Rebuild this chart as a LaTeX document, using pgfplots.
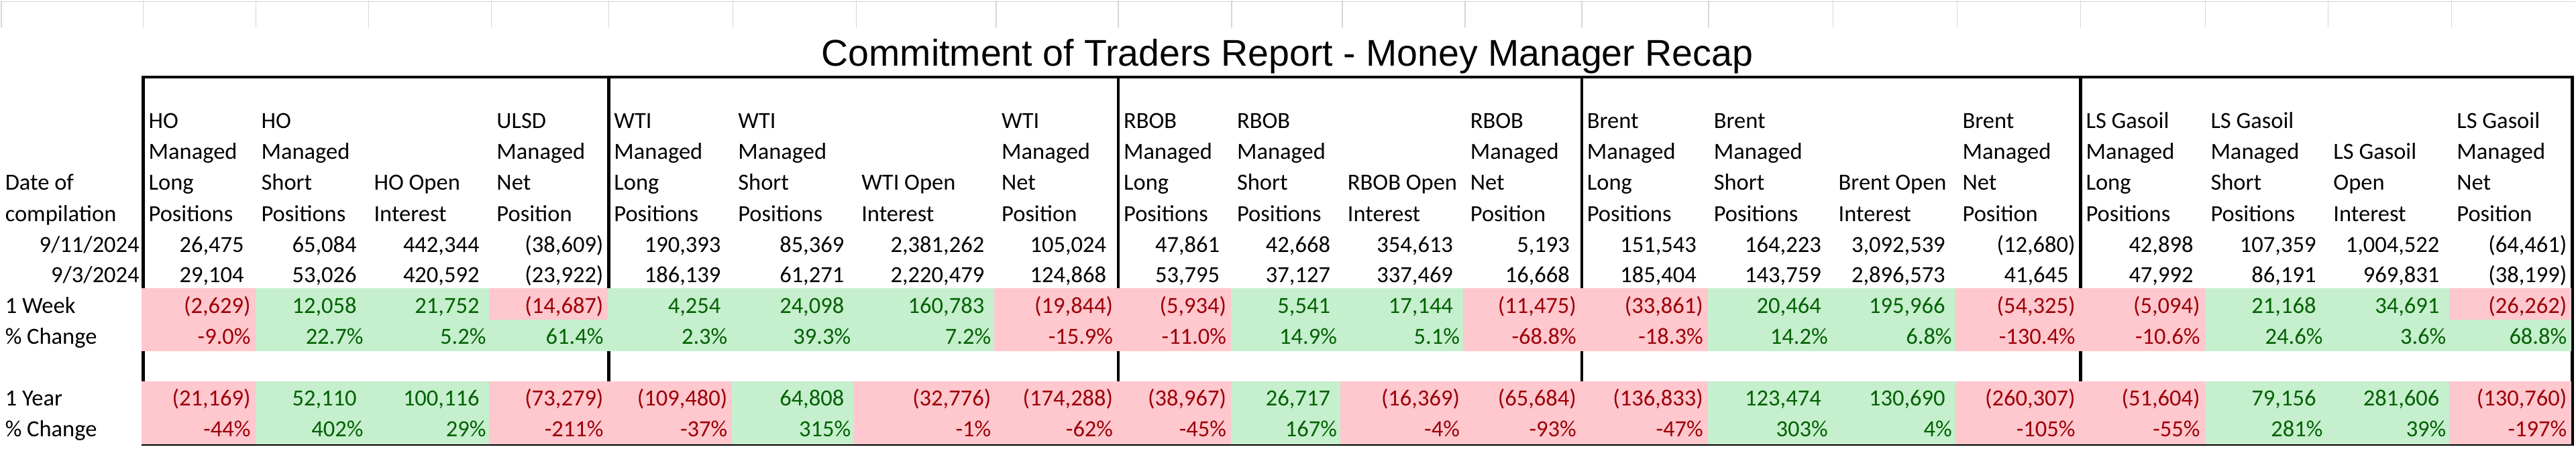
\documentclass[border=0pt]{standalone}
\usepackage{fontspec}
\usepackage{pgfplots}
\usepackage{pgfplotstable}
\pgfplotsset{compat=1.18}
\setmainfont{Carlito}
\newfontfamily\titlefont{Liberation Sans}
\newcommand\cellfont{\fontsize{6.9}{8}\selectfont}

\definecolor{txg}{HTML}{006100}
\definecolor{txr}{HTML}{9C0006}
\definecolor{bgg}{HTML}{C6EFCE}
\definecolor{bgr}{HTML}{FFC7CE}
\definecolor{gridgray}{HTML}{D6D6D6}

% positions are in pixels of the 3840x669 sheet, y counted from the top
% header text and row labels: x = left edge of cell, y = baseline
\pgfplotstableread[col sep=semicolon,row sep=\\]{
x;y;lab\\
-1;283;Date of\\
-1;330;compilation\\
-1;466.5;1 Week\\
-1;512.5;\% Change\\
-1;605;1 Year\\
-1;650.5;\% Change\\
213;191;HO\\ 213;237;Managed\\ 213;283;Long\\ 213;330;Positions\\
381;191;HO\\ 381;237;Managed\\ 381;283;Short\\ 381;330;Positions\\
549;283;HO Open\\ 549;330;Interest\\
732;191;ULSD\\ 732;237;Managed\\ 732;283;Net\\ 732;330;Position\\
907;191;WTI\\ 907;237;Managed\\ 907;283;Long\\ 907;330;Positions\\
1092;191;WTI\\ 1092;237;Managed\\ 1092;283;Short\\ 1092;330;Positions\\
1276;283;WTI Open\\ 1276;330;Interest\\
1485;191;WTI\\ 1485;237;Managed\\ 1485;283;Net\\ 1485;330;Position\\
1667;191;RBOB\\ 1667;237;Managed\\ 1667;283;Long\\ 1667;330;Positions\\
1836;191;RBOB\\ 1836;237;Managed\\ 1836;283;Short\\ 1836;330;Positions\\
2001;283;RBOB Open\\ 2001;330;Interest\\
2184;191;RBOB\\ 2184;237;Managed\\ 2184;283;Net\\ 2184;330;Position\\
2358;191;Brent\\ 2358;237;Managed\\ 2358;283;Long\\ 2358;330;Positions\\
2547;191;Brent\\ 2547;237;Managed\\ 2547;283;Short\\ 2547;330;Positions\\
2733;283;Brent Open\\ 2733;330;Interest\\
2918;191;Brent\\ 2918;237;Managed\\ 2918;283;Net\\ 2918;330;Position\\
3102;191;LS Gasoil\\ 3102;237;Managed\\ 3102;283;Long\\ 3102;330;Positions\\
3288;191;LS Gasoil\\ 3288;237;Managed\\ 3288;283;Short\\ 3288;330;Positions\\
3471;237;LS Gasoil\\ 3471;283;Open\\ 3471;330;Interest\\
3655;191;LS Gasoil\\ 3655;237;Managed\\ 3655;283;Net\\ 3655;330;Position\\
}\heads

% data rows: x = right edge of cell, w = cell width,
% s = 0 plain / 1 green / 2 red, p = right padding
\pgfplotstableread[col sep=semicolon,row sep=\\]{
x;w;s;p;lab\\
213;213;0;5;9/11/2024\\
381;168;0;17;26,475\\
549;168;0;17;65,084\\
732;183;0;17;442,344\\
907;175;0;7;(38,609)\\
1092;185;0;17;190,393\\
1276;184;0;17;85,369\\
1485;209;0;17;2,381,262\\
1667;182;0;17;105,024\\
1836;169;0;17;47,861\\
2001;165;0;17;42,668\\
2184;183;0;17;354,613\\
2358;174;0;17;5,193\\
2547;189;0;17;151,543\\
2733;186;0;17;164,223\\
2918;185;0;17;3,092,539\\
3102;184;0;7;(12,680)\\
3288;186;0;17;42,898\\
3471;183;0;17;107,359\\
3655;184;0;17;1,004,522\\
3835;180;0;7;(64,461)\\
}\rowA

\pgfplotstableread[col sep=semicolon,row sep=\\]{
x;w;s;p;lab\\
213;213;0;5;9/3/2024\\
381;168;0;17;29,104\\
549;168;0;17;53,026\\
732;183;0;17;420,592\\
907;175;0;7;(23,922)\\
1092;185;0;17;186,139\\
1276;184;0;17;61,271\\
1485;209;0;17;2,220,479\\
1667;182;0;17;124,868\\
1836;169;0;17;53,795\\
2001;165;0;17;37,127\\
2184;183;0;17;337,469\\
2358;174;0;17;16,668\\
2547;189;0;17;185,404\\
2733;186;0;17;143,759\\
2918;185;0;17;2,896,573\\
3102;184;0;17;41,645\\
3288;186;0;17;47,992\\
3471;183;0;17;86,191\\
3655;184;0;17;969,831\\
3835;180;0;7;(38,199)\\
}\rowB

\pgfplotstableread[col sep=semicolon,row sep=\\]{
x;w;s;p;lab\\
381;168;2;7;(2,629)\\
549;168;1;17;12,058\\
732;183;1;17;21,752\\
907;175;2;7;(14,687)\\
1092;185;1;17;4,254\\
1276;184;1;17;24,098\\
1485;209;1;17;160,783\\
1667;182;2;7;(19,844)\\
1836;169;2;7;(5,934)\\
2001;165;1;17;5,541\\
2184;183;1;17;17,144\\
2358;174;2;7;(11,475)\\
2547;189;2;7;(33,861)\\
2733;186;1;17;20,464\\
2918;185;1;17;195,966\\
3102;184;2;7;(54,325)\\
3288;186;2;7;(5,094)\\
3471;183;1;17;21,168\\
3655;184;1;17;34,691\\
3835;180;2;7;(26,262)\\
}\weekChg

\pgfplotstableread[col sep=semicolon,row sep=\\]{
x;w;s;p;lab\\
381;168;2;7;-9.0\\
549;168;1;7;22.7\\
732;183;1;7;5.2\\
907;175;1;7;61.4\\
1092;185;1;7;2.3\\
1276;184;1;7;39.3\\
1485;209;1;7;7.2\\
1667;182;2;7;-15.9\\
1836;169;2;7;-11.0\\
2001;165;1;7;14.9\\
2184;183;1;7;5.1\\
2358;174;2;7;-68.8\\
2547;189;2;7;-18.3\\
2733;186;1;7;14.2\\
2918;185;1;7;6.8\\
3102;184;2;7;-130.4\\
3288;186;2;7;-10.6\\
3471;183;1;7;24.6\\
3655;184;1;7;3.6\\
3835;180;1;7;68.8\\
}\weekPct

\pgfplotstableread[col sep=semicolon,row sep=\\]{
x;w;s;p;lab\\
381;168;2;7;(21,169)\\
549;168;1;17;52,110\\
732;183;1;17;100,116\\
907;175;2;7;(73,279)\\
1092;185;2;7;(109,480)\\
1276;184;1;17;64,808\\
1485;209;2;7;(32,776)\\
1667;182;2;7;(174,288)\\
1836;169;2;7;(38,967)\\
2001;165;1;17;26,717\\
2184;183;2;7;(16,369)\\
2358;174;2;7;(65,684)\\
2547;189;2;7;(136,833)\\
2733;186;1;17;123,474\\
2918;185;1;17;130,690\\
3102;184;2;7;(260,307)\\
3288;186;2;7;(51,604)\\
3471;183;1;17;79,156\\
3655;184;1;17;281,606\\
3835;180;2;7;(130,760)\\
}\yearChg

\pgfplotstableread[col sep=semicolon,row sep=\\]{
x;w;s;p;lab\\
381;168;2;7;-44\\
549;168;1;7;402\\
732;183;1;7;29\\
907;175;2;7;-211\\
1092;185;2;7;-37\\
1276;184;1;7;315\\
1485;209;2;7;-1\\
1667;182;2;7;-62\\
1836;169;2;7;-45\\
2001;165;1;7;167\\
2184;183;2;7;-4\\
2358;174;2;7;-93\\
2547;189;2;7;-47\\
2733;186;1;7;303\\
2918;185;1;7;4\\
3102;184;2;7;-105\\
3288;186;2;7;-55\\
3471;183;1;7;281\\
3655;184;1;7;39\\
3835;180;2;7;-197\\
}\yearPct

\pgfplotsset{
  nomarks/.style={only marks, mark=*, mark size=0pt, mark options={draw=none, fill=none}},
  green/.style={restrict expr to domain={\thisrow{s}}{1:1}},
  red/.style={restrict expr to domain={\thisrow{s}}{2:2}},
  cellfill/.style={nomarks,
    nodes near coords={\relax},
    nodes near coords align={anchor=east},
    visualization depends on={\thisrow{w} \as \cw},
    every node near coord/.append style={inner sep=0pt, fill=#1, draw=none,
      minimum width=\cw*0.2pt+0.4pt, minimum height=9.5pt}},
  celltext/.style={nomarks, point meta=explicit symbolic,
    nodes near coords={\pgfplotspointmeta},
    nodes near coords align={anchor=base east},
    every node near coord/.append style={inner sep=0pt, font=\cellfont, text=#1}},
  headtext/.style={nomarks, point meta=explicit symbolic,
    nodes near coords={\pgfplotspointmeta},
    nodes near coords align={anchor=base west},
    every node near coord/.append style={inner sep=0pt, font=\cellfont, text=black}},
}

\begin{document}
\begin{tikzpicture}
\begin{axis}[
  scale only axis, width=768pt, height=133.8pt,
  xmin=0, xmax=3840, ymin=0, ymax=669, y dir=reverse,
  hide axis, clip=false,
]
\path (axis cs:0,0) rectangle (axis cs:3840,669);

% sheet gridlines in the empty top row
\draw[gridgray, line width=0.3pt] (axis cs:0,1.5) -- (axis cs:3840,1.5);
\pgfplotsinvokeforeach{1,213,381,549,732,907,1092,1276,1485,1667,1836,2001,2184,2358,2547,2733,2918,3102,3288,3471,3655}{
  \draw[gridgray, line width=0.3pt] (axis cs:#1,0) -- (axis cs:#1,40);
}

% coloured cells
\addplot[cellfill=bgg, green] table[x=x, y expr=453.5] {\weekChg};
\addplot[cellfill=bgr, red] table[x=x, y expr=453.5] {\weekChg};
\addplot[cellfill=bgg, green] table[x=x, y expr=500] {\weekPct};
\addplot[cellfill=bgr, red] table[x=x, y expr=500] {\weekPct};
\addplot[cellfill=bgg, green] table[x=x, y expr=592] {\yearChg};
\addplot[cellfill=bgr, red] table[x=x, y expr=592] {\yearChg};
\addplot[cellfill=bgg, green] table[x=x, y expr=638.7] {\yearPct};
\addplot[cellfill=bgr, red] table[x=x, y expr=638.7] {\yearPct};

% text
\addplot[headtext] table[x expr=\thisrow{x}+7, y=y, meta=lab] {\heads};
\addplot[celltext=black] table[x expr=\thisrow{x}-\thisrow{p}, y expr=375.5, meta=lab] {\rowA};
\addplot[celltext=black] table[x expr=\thisrow{x}-\thisrow{p}, y expr=420.5, meta=lab] {\rowB};
\addplot[celltext=txg, green] table[x expr=\thisrow{x}-\thisrow{p}, y expr=466.5, meta=lab] {\weekChg};
\addplot[celltext=txr, red] table[x expr=\thisrow{x}-\thisrow{p}, y expr=466.5, meta=lab] {\weekChg};
\addplot[celltext=txg, green, nodes near coords={\pgfplotspointmeta\%}] table[x expr=\thisrow{x}-\thisrow{p}, y expr=512.5, meta=lab] {\weekPct};
\addplot[celltext=txr, red, nodes near coords={\pgfplotspointmeta\%}] table[x expr=\thisrow{x}-\thisrow{p}, y expr=512.5, meta=lab] {\weekPct};
\addplot[celltext=txg, green] table[x expr=\thisrow{x}-\thisrow{p}, y expr=605, meta=lab] {\yearChg};
\addplot[celltext=txr, red] table[x expr=\thisrow{x}-\thisrow{p}, y expr=605, meta=lab] {\yearChg};
\addplot[celltext=txg, green, nodes near coords={\pgfplotspointmeta\%}] table[x expr=\thisrow{x}-\thisrow{p}, y expr=650.5, meta=lab] {\yearPct};
\addplot[celltext=txr, red, nodes near coords={\pgfplotspointmeta\%}] table[x expr=\thisrow{x}-\thisrow{p}, y expr=650.5, meta=lab] {\yearPct};

% borders
\draw[black, line width=0.9pt] (axis cs:213,114.5) rectangle (axis cs:3835,662.5);
\pgfplotsinvokeforeach{907,1667,2358,3102}{
  \draw[black, line width=0.9pt] (axis cs:#1,114.5) -- (axis cs:#1,662.5);
}

\node[anchor=base, inner sep=0pt, font=\titlefont\fontsize{11.1}{13}\selectfont]
  at (axis cs:1919,98) {Commitment of Traders Report - Money Manager Recap};
\end{axis}
\end{tikzpicture}
\end{document}
